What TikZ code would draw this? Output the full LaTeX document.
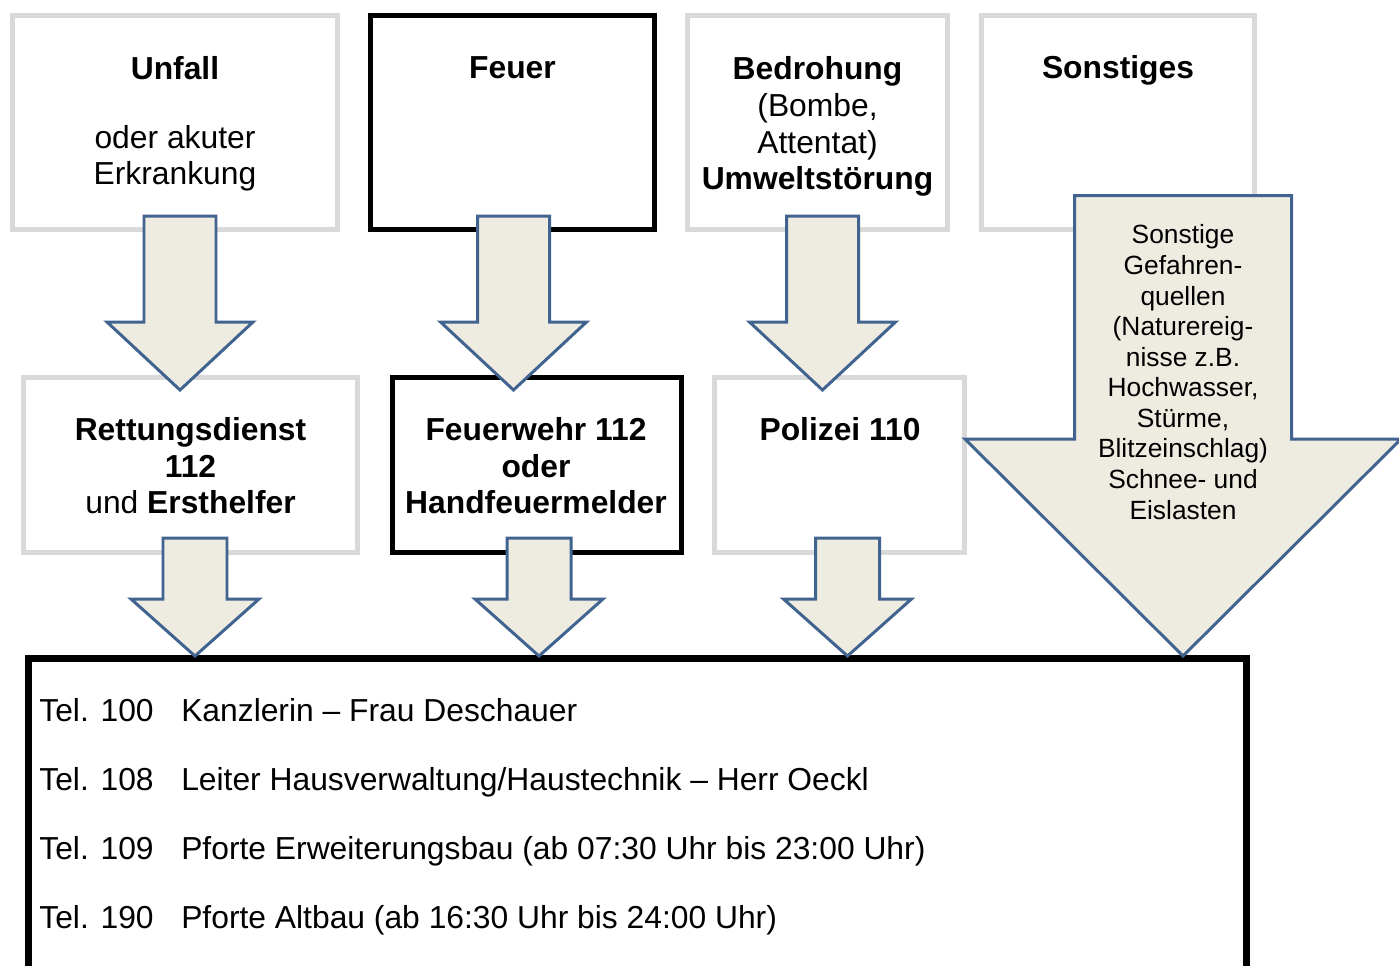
\documentclass[tikz,border=0pt]{standalone}
\usepackage{fontspec}
\setmainfont{Liberation Sans}
\usetikzlibrary{calc,positioning}
\definecolor{boxgray}{HTML}{D9D9D9}
\definecolor{arrowblue}{HTML}{41638F}
\definecolor{arrowfill}{HTML}{EEECE1}
\tikzset{
  graybox/.style={draw=boxgray,line width=2.8pt,inner sep=0pt},
  blackbox/.style={draw=black,line width=2.8pt,inner sep=0pt},
  boxtext/.style={anchor=base,align=center,inner sep=0pt,font=\fontsize{18.1}{20.8}\selectfont},
  arrowtext/.style={anchor=base,align=center,inner sep=0pt,font=\fontsize{15}{17.4}\selectfont},
  teltext/.style={anchor=base west,inner sep=0pt,font=\fontsize{18.1}{20.8}\selectfont},
  blockarrow/.style={draw=arrowblue,fill=arrowfill,line width=1.7pt,line join=miter}
}
% x, top, half shaft, shoulder, half head, tip
\newcommand{\flowarrow}[6]{%
  \draw[blockarrow] (#1-#3,#2) -- (#1+#3,#2) -- (#1+#3,#4) -- (#1+#5,#4)
    -- (#1,#6) -- (#1-#5,#4) -- (#1-#3,#4) -- cycle;}

\begin{document}
\begin{tikzpicture}[x=0.02cm,y=-0.02cm]
    \useasboundingbox (0,0) rectangle (1399,965);
    % top row
    \node[graybox,minimum width=6.5cm,minimum height=4.28cm] (unfall) at (175,122.5) {};
    \node[blackbox,minimum width=5.68cm,minimum height=4.28cm] (feuer) at (512.5,122.5) {};
    \node[graybox,minimum width=5.2cm,minimum height=4.28cm] (bedrohung) at (817.5,122.5) {};
    \node[graybox,minimum width=5.46cm,minimum height=4.28cm] (sonstiges) at (1118,122.5) {};
    % second row
    \node[graybox,minimum width=6.68cm,minimum height=3.5cm] (rettung) at (190.5,465) {};
    \node[blackbox,minimum width=5.78cm,minimum height=3.5cm] (feuerwehr) at (537,465) {};
    \node[graybox,minimum width=5cm,minimum height=3.5cm] (polizei) at (839.5,465) {};
    % telephone list
    \node[draw,line width=4pt,inner sep=0pt,minimum width=24.38cm,minimum height=6.7cm,anchor=north west] (telefon) at (24.5,654.5) {};

    \flowarrow{180}{216}{36}{322}{73}{390}
    \flowarrow{513.5}{216}{36}{322}{73}{390}
    \flowarrow{822.5}{216}{36}{322}{73}{390}
    \flowarrow{195}{538}{32}{599}{64}{656}
    \flowarrow{539}{538}{32}{599}{64}{656}
    \flowarrow{847.5}{538}{32}{599}{64}{656}
    \flowarrow{1183}{195.5}{108.5}{439}{218}{656}

    % base anchor sits on the last line
    \node[boxtext] (unfalltxt) at ($(unfall.north)+(0,171.5)$)
        {\textbf{Unfall}\\[18.4pt]oder akuter\\Erkrankung};
    \node[boxtext] (feuertxt) at ($(feuer.north)+(0,65.5)$) {\textbf{Feuer}};
    \node[boxtext] (bedrohungtxt) at ($(bedrohung.north)+(0,176.5)$)
        {\textbf{Bedrohung}\\(Bombe,\\Attentat)\\\textbf{Umweltstörung}};
    \node[boxtext] (sonstigestxt) at ($(sonstiges.north)+(0,65.5)$) {\textbf{Sonstiges}};
    \node[boxtext] (rettungtxt) at ($(rettung.north)+(0,138.5)$)
        {\textbf{Rettungsdienst}\\\textbf{112}\\und \textbf{Ersthelfer}};
    \node[boxtext] (feuerwehrtxt) at ($(feuerwehr.north)+(-1,138.5)$)
        {\textbf{Feuerwehr 112}\\\textbf{oder}\\\textbf{Handfeuermelder}};
    \node[boxtext] (polizeitxt) at ($(polizei.north)+(0.5,65.5)$) {\textbf{Polizei 110}};
    \node[arrowtext] (gefahrentxt) at (1183,519)
        {Sonstige\\Gefahren-\\quellen\\(Naturereig-\\nisse z.B.\\Hochwasser,\\Stürme,\\Blitzeinschlag)\\Schnee- und\\Eislasten};

    \node[teltext] (tel100) at (39,721) {\makebox[2.84cm][l]{Tel. 100}Kanzlerin – Frau Deschauer};
    \node[teltext] (tel108) at (39,790) {\makebox[2.84cm][l]{Tel. 108}Leiter Hausverwaltung/Haustechnik – Herr Oeckl};
    \node[teltext] (tel109) at (39,859) {\makebox[2.84cm][l]{Tel. 109}Pforte Erweiterungsbau (ab 07:30 Uhr bis 23:00 Uhr)};
    \node[teltext] (tel190) at (39,928) {\makebox[2.84cm][l]{Tel. 190}Pforte Altbau (ab 16:30 Uhr bis 24:00 Uhr)};
\end{tikzpicture}
\end{document}
